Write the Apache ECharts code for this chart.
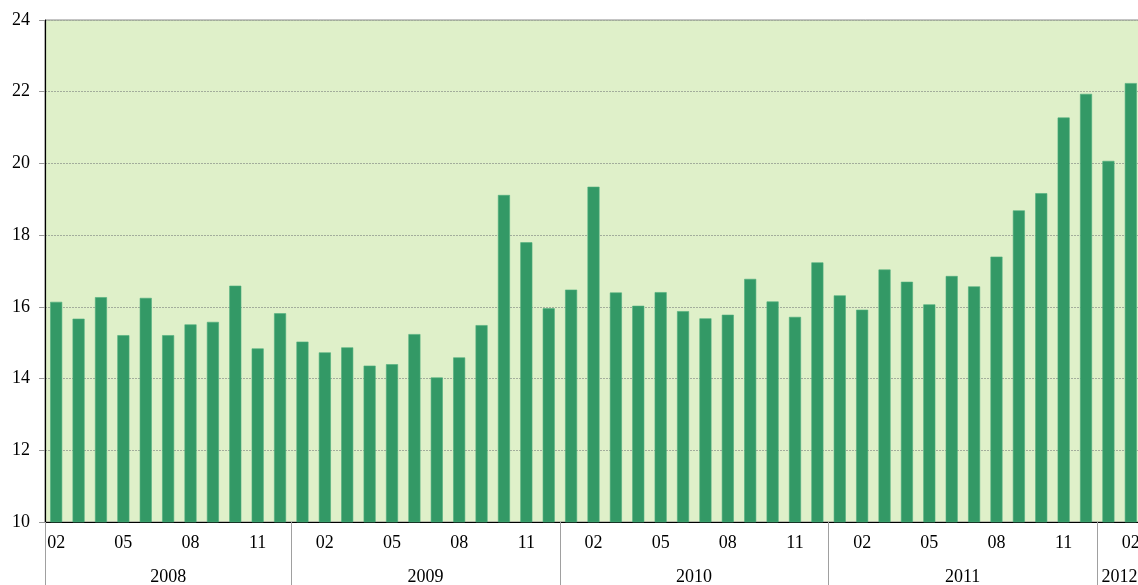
<!DOCTYPE html>
<html>
<head>
<meta charset="utf-8">
<script src="https://cdn.jsdelivr.net/npm/echarts@6/dist/echarts.min.js"></script>
<style>
  html, body { margin: 0; padding: 0; background: #fff; }
  #chart { width: 1138px; height: 585px; }
</style>
</head>
<body>
<div id="chart"></div>
<script>
// monthly categories, Feb 2008 .. Feb 2012
const months = [
  '2008-02','2008-03','2008-04','2008-05','2008-06','2008-07','2008-08','2008-09','2008-10','2008-11','2008-12',
  '2009-01','2009-02','2009-03','2009-04','2009-05','2009-06','2009-07','2009-08','2009-09','2009-10','2009-11','2009-12',
  '2010-01','2010-02','2010-03','2010-04','2010-05','2010-06','2010-07','2010-08','2010-09','2010-10','2010-11','2010-12',
  '2011-01','2011-02','2011-03','2011-04','2011-05','2011-06','2011-07','2011-08','2011-09','2011-10','2011-11','2011-12',
  '2012-01','2012-02'
];

const values = [
  16.14, 15.67, 16.27, 15.21, 16.25, 15.21, 15.51, 15.58, 16.59, 14.84, 15.82,
  15.03, 14.73, 14.87, 14.36, 14.40, 15.24, 14.03, 14.59, 15.49, 19.12, 17.80, 15.96,
  16.48, 19.35, 16.40, 16.03, 16.41, 15.88, 15.68, 15.78, 16.78, 16.15, 15.72, 17.24,
  16.32, 15.92, 17.04, 16.70, 16.07, 16.86, 16.57, 17.40, 18.69, 19.17, 21.28, 21.94,
  20.07, 22.24
];

// month labels shown on the first row
const shownMonths = ['02', '05', '08', '11'];

const yTicks = { min: 10, max: 24, interval: 2 };

// year groups: first index and bar count
const years = [];
months.forEach((m, i) => {
  const y = m.slice(0, 4);
  const last = years[years.length - 1];
  if (last && last.year === y) last.count++;
  else years.push({ year: y, start: i, count: 1 });
});
const yearLabelAt = {};
years.forEach(g => {
  yearLabelAt[g.start + Math.floor((g.count - 1) / 2)] = g;
});
const yearStarts = years.map(g => g.start);

const font = 'Liberation Serif, Times New Roman, serif';

const chart = echarts.init(document.getElementById('chart'));

chart.setOption({
  animation: false,
  grid: {
    left: 45,
    top: 20,
    width: 1097,
    bottom: 63,
    outerBoundsMode: 'none',
    containLabel: false,
    show: true,
    backgroundColor: '#dff0c9',
    borderColor: '#8a8a8a',
    borderWidth: 1
  },
  xAxis: [
    {
      type: 'category',
      data: months,
      axisLine: { lineStyle: { color: '#000', width: 1.2 } },
      axisTick: { show: false },
      axisLabel: {
        interval: (i, v) => shownMonths.includes(v.slice(5)),
        formatter: v => v.slice(5),
        margin: 12,
        color: '#000',
        fontSize: 18,
        fontFamily: font
      },
      splitLine: { show: false }
    },
    {
      type: 'category',
      data: months,
      position: 'bottom',
      axisLine: { show: false },
      axisTick: {
        show: true,
        interval: i => yearStarts.includes(i),
        length: 63,
        lineStyle: { color: '#a0a0a0', width: 1 }
      },
      axisLabel: {
        interval: i => yearLabelAt[i] !== undefined,
        formatter: (v, i) => {
          const g = yearLabelAt[i];
          if (!g) return '';
          return (g.count % 2 === 0 ? '{s|' : '{n|') + g.year + '}';
        },
        margin: 46,
        rich: {
          n: { fontSize: 18, fontFamily: font, color: '#000' },
          s: { fontSize: 18, fontFamily: font, color: '#000', padding: [0, 0, 0, 22] }
        }
      },
      splitLine: { show: false }
    }
  ],
  yAxis: {
    type: 'value',
    min: yTicks.min,
    max: yTicks.max,
    interval: yTicks.interval,
    axisLine: { show: true, lineStyle: { color: '#000', width: 1.2 } },
    axisTick: { show: true, length: 6, lineStyle: { color: '#999' } },
    axisLabel: {
      margin: 15,
      color: '#000',
      fontSize: 18,
      fontFamily: font
    },
    splitLine: {
      show: true,
      lineStyle: { color: '#a3ad9c', type: [2, 1], width: 1 }
    }
  },
  series: [
    {
      type: 'bar',
      data: values,
      barWidth: 12,
      itemStyle: {
        color: '#339966',
        borderColor: '#4fae7c',
        borderWidth: 0.6
      }
    }
  ]
});
</script>
</body>
</html>
